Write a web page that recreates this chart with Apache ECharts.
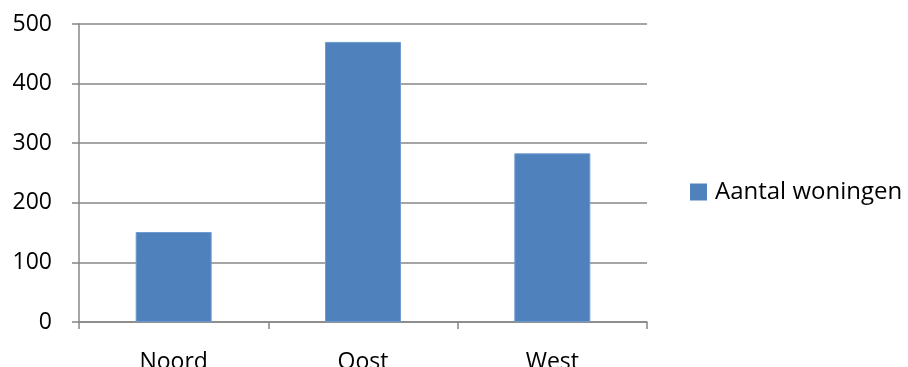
<!DOCTYPE html>
<html>
<head>
<meta charset="utf-8">
<script src="https://cdn.jsdelivr.net/npm/echarts@6/dist/echarts.min.js"></script>
<style>
  html, body { margin: 0; padding: 0; background: #fff; }
  #chart { width: 908px; height: 367px; }
</style>
</head>
<body>
<div id="chart"></div>
<script>
const categories = ["Noord", "Oost", "West"];
const woningen = [151, 470, 283];
const seriesName = "Aantal woningen";

const font = "'Open Sans', Lato, sans-serif";
const gridColor = "#878787";

const chart = echarts.init(document.getElementById("chart"));
chart.setOption({
  animation: false,
  textStyle: { fontFamily: font },
  grid: { left: 79, right: 261, top: 24, bottom: 45, outerBoundsMode: "none" },
  legend: {
    data: [seriesName],
    orient: "vertical",
    left: 690,
    top: 180,
    padding: 0,
    icon: "rect",
    itemWidth: 17,
    itemHeight: 17,
    itemGap: 8,
    itemStyle: { borderWidth: 0 },
    textStyle: { fontSize: 24, color: "#000", fontFamily: font, padding: [0, 0, 0, 3] }
  },
  xAxis: {
    type: "category",
    data: categories,
    axisLine: { lineStyle: { color: gridColor, width: 1.5 } },
    axisTick: { show: true, length: 7, lineStyle: { color: gridColor, width: 1.5 } },
    axisLabel: { color: "#000", fontSize: 23, margin: 29, fontFamily: font }
  },
  yAxis: {
    type: "value",
    min: 0,
    max: 500,
    interval: 100,
    axisLine: { show: true, lineStyle: { color: gridColor, width: 1.5 } },
    axisTick: { show: true, length: 7, lineStyle: { color: gridColor, width: 1.5 } },
    splitLine: { lineStyle: { color: gridColor, width: 1.5 } },
    axisLabel: { color: "#000", fontSize: 23, margin: 27, fontFamily: font }
  },
  series: [
    {
      name: seriesName,
      type: "bar",
      barWidth: 76,
      data: woningen,
      itemStyle: { color: "#4f81bd", borderColor: "#6f9bd1", borderWidth: 1 }
    }
  ]
});
</script>
</body>
</html>
